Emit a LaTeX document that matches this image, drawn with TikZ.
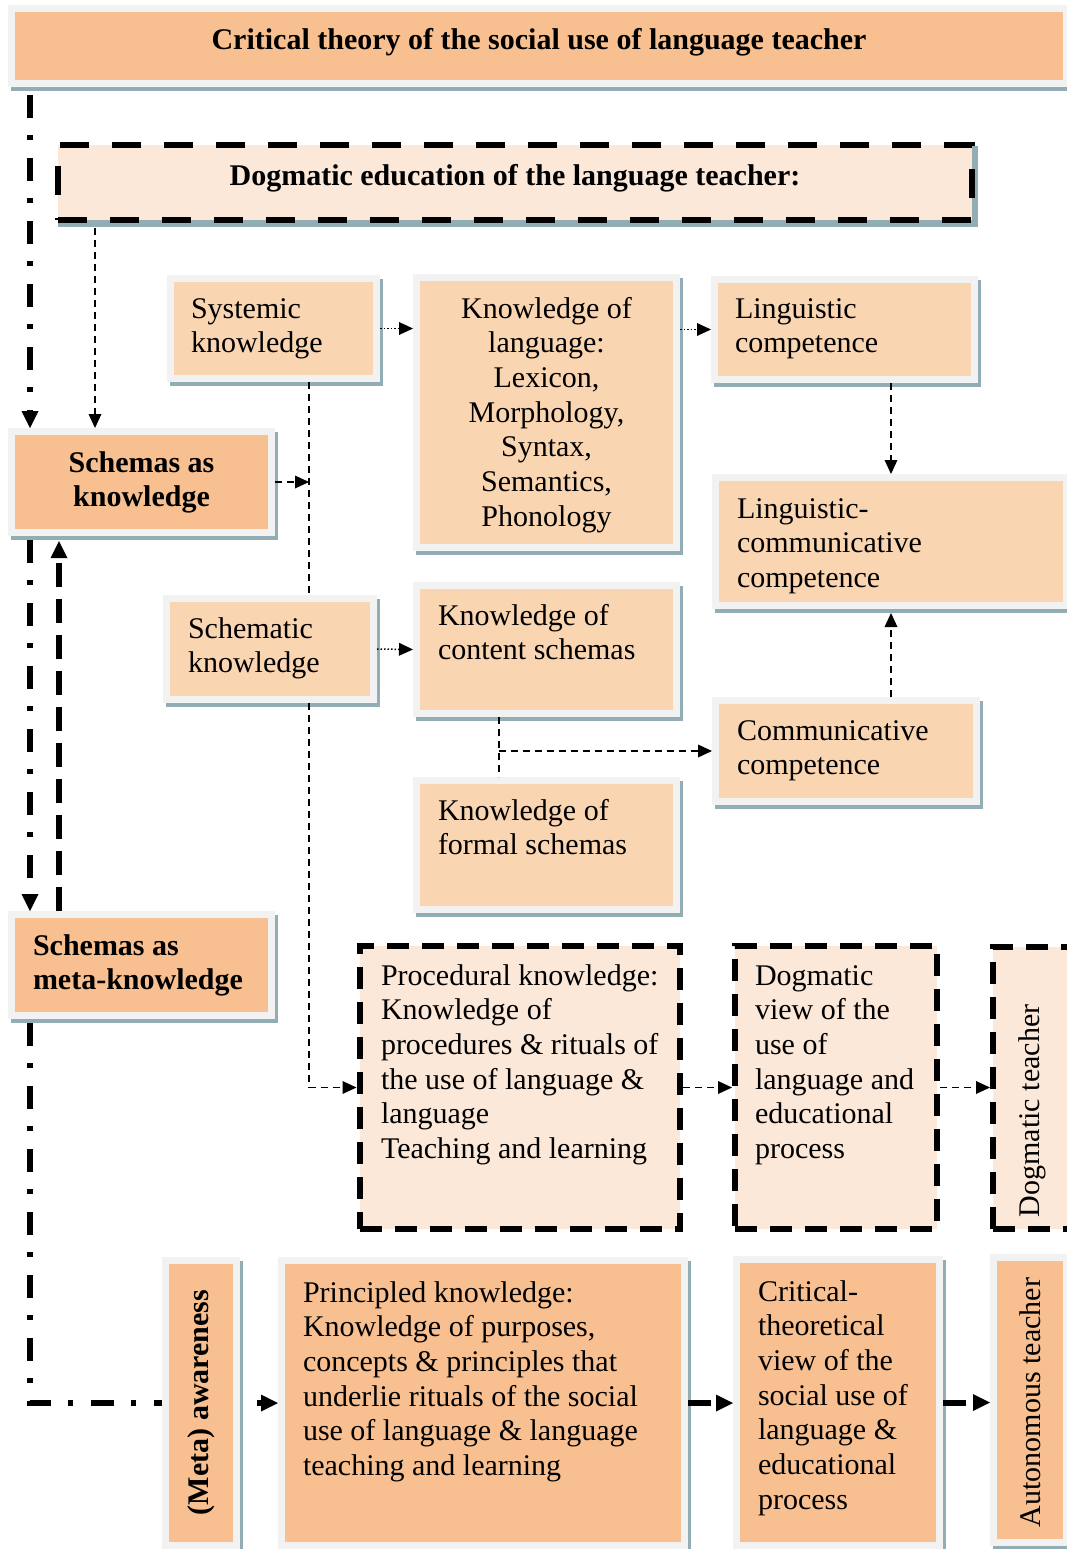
\documentclass[tikz,border=0pt]{standalone}
\usepackage{fontspec}
\setmainfont{Liberation Serif}
\usetikzlibrary{arrows.meta,calc,shadows}
\pgfdeclarelayer{background}
\pgfsetlayers{background,main}
\definecolor{darkor}{RGB}{248,192,144}
\definecolor{lightor}{RGB}{250,213,178}
\definecolor{paleor}{RGB}{252,232,217}
\definecolor{framegray}{RGB}{242,242,242}
\definecolor{shadowc}{RGB}{147,173,181}
% #1 height, #2 width, #3 first baseline from top, #4 left indent, #5 text
\newcommand{\bt}[5]{\begin{minipage}[c][#1pt][t]{#2pt}\raggedright\leftskip=#4pt\relax\vspace*{\dimexpr#3pt-0.7\baselineskip\relax}\strut#5\end{minipage}}
\begin{document}
\begin{tikzpicture}[x=1pt,y=-1pt,
  fnt/.style={font=\fontsize{30pt}{34.7pt}\selectfont},
  fbox/.style={fnt, draw=framegray, line width=7pt, inner sep=0pt,
    drop shadow={shadow xshift=3pt, shadow yshift=-4pt, fill=shadowc, draw=shadowc, line width=7pt, solid, opacity=1}},
  dbox/.style={fnt, draw=black, line width=6pt, fill=paleor, inner sep=0pt, dash pattern=on 22pt off 13pt},
  thindash/.style={line width=1.5pt, dash pattern=on 7pt off 5pt},
  dotline/.style={line width=1.5pt, dash pattern=on 1.5pt off 2pt},
  dashdot/.style={line width=6pt, dash pattern=on 23pt off 17pt on 5pt off 18pt},
  longdash/.style={line width=6pt, dash pattern=on 24pt off 12pt},
  bolddash/.style={line width=6pt, dash pattern=on 23pt off 8pt},
  arr/.style={-{Triangle[length=14pt,width=13pt,line width=0pt]}},
  arrb/.style={-{Triangle[length=17pt,width=17pt,line width=0pt]}}
]
\useasboundingbox (0,0) rectangle (1066,1549);

% ---------- boxes ----------
\node[fbox, fill=darkor, minimum width=1055pt, minimum height=75pt] (title) at (539,46)
  {\bt{75}{1055}{41.5}{0}{\centering\bfseries Critical theory of the social use of language teacher}};

\node[dbox, dash pattern=on 29pt off 23pt,
  drop shadow={shadow xshift=3pt, shadow yshift=-4pt, fill=shadowc, draw=shadowc, line width=6pt, solid, opacity=1},
  minimum width=914pt, minimum height=75pt] (de) at (515,182.5)
  {\bt{75}{914}{41}{0}{\centering\bfseries Dogmatic education of the language teacher:}};

\node[fbox, fill=darkor, minimum width=260pt, minimum height=101pt] (sak) at (141.5,482)
  {\bt{101}{260}{40.5}{0}{\centering\bfseries Schemas as\\knowledge}};

\node[fbox, fill=lightor, minimum width=206pt, minimum height=100pt] (sys) at (273.5,328.5)
  {\bt{100}{206}{39.5}{20.5}{Systemic\\knowledge}};

\node[fbox, fill=lightor, minimum width=260pt, minimum height=270pt] (kol) at (546.5,412.5)
  {\bt{270}{260}{40.5}{0}{\centering Knowledge of\\language:\\Lexicon,\\Morphology,\\Syntax,\\Semantics,\\Phonology}};

\node[fbox, fill=lightor, minimum width=260pt, minimum height=100pt] (lc) at (844.5,329.5)
  {\bt{100}{260}{38.5}{20.5}{Linguistic\\competence}};

\node[fbox, fill=lightor, minimum width=351pt, minimum height=128pt] (lcc) at (891,541.5)
  {\bt{128}{351}{40.5}{21.5}{Linguistic-\\communicative\\competence}};

\node[fbox, fill=lightor, minimum width=207pt, minimum height=101pt] (sch) at (270,649)
  {\bt{101}{207}{39.5}{21.5}{Schematic\\knowledge}};

\node[fbox, fill=lightor, minimum width=260pt, minimum height=128pt] (kcs) at (546.5,649.5)
  {\bt{128}{260}{39.5}{21.5}{Knowledge of\\content schemas}};

\node[fbox, fill=lightor, minimum width=261pt, minimum height=101pt] (cc) at (846,751)
  {\bt{101}{261}{39.5}{21.5}{Communicative\\competence}};

\node[fbox, fill=lightor, minimum width=260pt, minimum height=129pt] (kfs) at (546.5,845)
  {\bt{129}{260}{39.5}{21.5}{Knowledge of\\formal schemas}};

\node[fbox, fill=darkor, minimum width=260pt, minimum height=101pt] (smk) at (141.5,965)
  {\bt{101}{260}{40.5}{21.5}{\bfseries Schemas as\\meta-knowledge}};

\node[dbox, minimum width=320.5pt, minimum height=283pt] (pr) at (519.75,1087.5)
  {\bt{283}{320.5}{39}{21.5}{Procedural knowledge:\\Knowledge of\\procedures \& rituals of\\the use of language \&\\language\\Teaching and learning}};

\node[dbox, minimum width=202pt, minimum height=283pt] (dv) at (836,1087.5)
  {\bt{283}{202}{39}{20}{Dogmatic\\view of the\\use of\\language and\\educational\\process}};

\node[dbox, minimum width=79pt, minimum height=282pt] (dt) at (1032.5,1088)
  {\rotatebox{90}{\makebox[282pt][l]{\hspace{12pt}Dogmatic teacher}}};

\node[fbox, fill=darkor, minimum width=71pt, minimum height=285pt] (aw) at (201,1403)
  {\rotatebox{90}{\makebox[285pt][l]{\hspace{30.5pt}\bfseries (Meta) awareness}}};

\node[fbox, fill=darkor, minimum width=403pt, minimum height=285pt] (pk) at (483,1403)
  {\bt{285}{403}{41.5}{21.5}{Principled knowledge:\\Knowledge of purposes,\\concepts \& principles that\\underlie rituals of the social\\use of language \& language\\teaching and learning}};

\node[fbox, fill=darkor, minimum width=203pt, minimum height=286pt] (ct) at (838,1402.5)
  {\bt{286}{203}{41.5}{21.5}{Critical-\\theoretical\\view of the\\social use of\\language \&\\educational\\process}};

\node[fbox, fill=darkor, minimum width=73pt, minimum height=285pt] (at) at (1030,1400)
  {\rotatebox{90}{\makebox[285pt][l]{\hspace{15.5pt}Autonomous teacher}}};

% ---------- connectors ----------
\coordinate (vx) at (309,0);
\coordinate (kx) at ($(kcs.south west)+(86,0)$);

\draw[dashdot, arrb] ($(title.south west)+(22,8)$) -- ($(sak.north west)+(22,0)$);
\draw[thindash, arr] ($(de.south west)+(40,5)$) -- ($(sak.north west)+(87,0)$);
\draw[thindash] (sys.south -| vx) -- (sch.north -| vx);
\draw[thindash, arr] (sak.east) -- (sak.east -| vx);
\draw[thindash, arr] (sch.south -| vx) |- (pr.west);
\draw[dotline, arr] (sys.east) -- (sys.east -| kol.west);
\draw[dotline, arr] (kol.east |- lc.west) -- (lc.west);
\draw[thindash, arr] (lc.south -| lcc.north) -- (lcc.north);
\draw[thindash, arr] (cc.north -| lcc.south) -- ($(lcc.south)+(0,4)$);
\draw[dotline, arr] (sch.east) -- (kcs.west);
\draw[thindash] (kx) -- (kx |- kfs.north);
\draw[thindash, arr] (kx |- cc.west) -- (cc.west);
\draw[thindash, arr] (pr.east) -- (pr.east -| dv.west);
\draw[thindash, arr] (dv.east) -- (dv.east -| dt.west);
\draw[dashdot, arrb] ($(sak.south west)+(22,4)$) -- ($(smk.north west)+(22,0)$);
\draw[longdash, arrb] ($(smk.north west)+(51,0)$) -- ($(sak.south west)+(51,5)$);
\draw[bolddash, arrb] (pk.east) -- (pk.east -| ct.west);
\draw[bolddash, arrb] (ct.east) -- (ct.east -| at.west);
\begin{pgfonlayer}{background}
\draw[dashdot, arrb] ($(smk.south west)+(22,4)$) |- (pk.west);
\end{pgfonlayer}
\end{tikzpicture}
\end{document}
